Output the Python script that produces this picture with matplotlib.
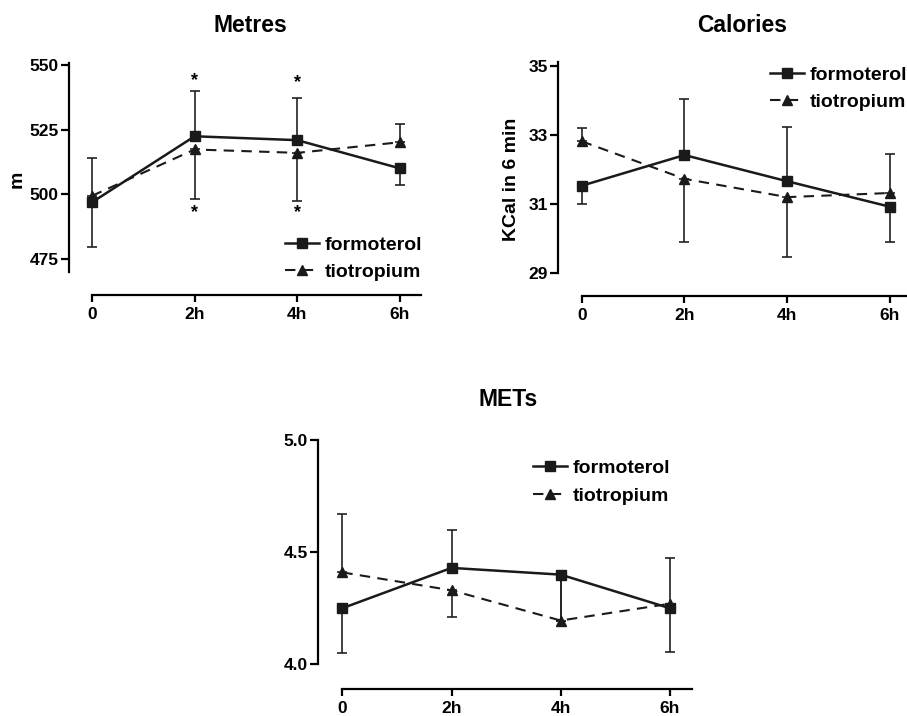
import matplotlib
matplotlib.use('Agg')
import matplotlib.pyplot as plt

plt.rcParams['font.family'] = ['Liberation Sans', 'DejaVu Sans']
plt.rcParams['font.weight'] = 'bold'

# data
times = ['0', '2h', '4h', '6h']
xpos = [0, 2, 4, 6]

metres_form = [496.9, 522.4, 520.9, 510.0]
metres_form_lo = [17.2, 0, 0, 6.6]
metres_form_hi = [0, 17.4, 16.3, 0]
metres_tio = [499.4, 517.3, 516.0, 520.1]
metres_tio_lo = [0, 19.1, 18.7, 0]
metres_tio_hi = [14.7, 0, 0, 7.2]

cal_form = [31.52, 32.41, 31.65, 30.91]
cal_form_lo = [0.53, 0, 0, 1.03]
cal_form_hi = [0, 1.63, 1.58, 0]
cal_tio = [32.81, 31.72, 31.19, 31.31]
cal_tio_lo = [0, 1.82, 1.75, 0]
cal_tio_hi = [0.38, 0, 0, 1.14]

mets_form = [4.25, 4.43, 4.40, 4.25]
mets_form_lo = [0.20, 0, 0.205, 0.194]
mets_form_hi = [0, 0.17, 0, 0]
mets_tio = [4.41, 4.33, 4.195, 4.27]
mets_tio_lo = [0, 0.12, 0, 0]
mets_tio_hi = [0.26, 0, 0.205, 0.204]

W, H = 907, 716
fig = plt.figure(figsize=(W / 100, H / 100), dpi=100)


def px_axes(left, right, top, bottom):
    return fig.add_axes([left / W, (H - bottom) / H, (right - left) / W, (bottom - top) / H])


def style(ax, xlim, ylim, ybounds, yticks, yticklabels):
    ax.set_xlim(*xlim)
    ax.set_ylim(*ylim)
    for s in ['top', 'right']:
        ax.spines[s].set_visible(False)
    for s in ['left', 'bottom']:
        ax.spines[s].set_linewidth(1.6)
    ax.spines['left'].set_bounds(*ybounds)
    ax.spines['bottom'].set_bounds(0, xlim[1])
    ax.set_xticks(xpos)
    ax.set_xticklabels(times, fontsize=12.5, fontweight='bold')
    ax.set_yticks(yticks)
    ax.set_yticklabels(yticklabels, fontsize=12.5, fontweight='bold')
    ax.tick_params(axis='y', length=6, width=1.6, pad=1.5)
    ax.tick_params(axis='x', length=5, width=1.6, pad=3.5)
    ax.patch.set_visible(False)


def draw(ax, form, flo, fhi, tio, tlo, thi):
    ax.errorbar(xpos, form, yerr=[flo, fhi], fmt='none', ecolor='#222222',
                elinewidth=1.2, capsize=3.5, capthick=1.2, zorder=2)
    ax.errorbar(xpos, tio, yerr=[tlo, thi], fmt='none', ecolor='#222222',
                elinewidth=1.2, capsize=3.5, capthick=1.2, zorder=2)
    ax.plot(xpos, form, color='#1a1a1a', lw=1.8, marker='s', ms=7.5,
            label='formoterol', zorder=3)
    ax.plot(xpos, tio, color='#1a1a1a', lw=1.5, ls=(0, (5, 3.5)), marker='^', ms=7.5,
            label='tiotropium', zorder=3)


def legend(ax, x, y, spacing=0.5):
    ax.legend(loc='upper left', bbox_to_anchor=(x / W, (H - y) / H),
              bbox_transform=fig.transFigure, frameon=False, numpoints=1,
              prop={'size': 14, 'weight': 'bold'}, handlelength=1.75,
              handletextpad=0.3, labelspacing=spacing, borderpad=0, borderaxespad=0)


# Metres
ax1 = px_axes(69, 421, 63, 295)
draw(ax1, metres_form, metres_form_lo, metres_form_hi, metres_tio, metres_tio_lo, metres_tio_hi)
style(ax1, (-0.448, 6.41), (461.1, 550.7), (470, 550.7), [475, 500, 525, 550],
      ['475', '500', '525', '550'])
ax1.set_ylabel('m', fontsize=14, fontweight='bold', labelpad=3)
for xi, yi in [(2, 544), (4, 543.2), (2, 493), (4, 493)]:
    ax1.text(xi, yi, '*', ha='center', va='center', fontsize=13, fontweight='bold')
legend(ax1, 285, 236)
fig.text(250 / W, (H - 25) / H, 'Metres', ha='center', va='center', fontsize=16.5, fontweight='bold')

# Calories
ax2 = px_axes(558, 907, 62, 295.7)
draw(ax2, cal_form, cal_form_lo, cal_form_hi, cal_tio, cal_tio_lo, cal_tio_hi)
style(ax2, (-0.461, 6.33), (28.33, 35.11), (29, 35.11), [29, 31, 33, 35],
      ['29', '31', '33', '35'])
ax2.set_ylabel('KCal in 6 min', fontsize=14, fontweight='bold', labelpad=6)
legend(ax2, 770, 66)
fig.text(741.7 / W, (H - 25) / H, 'Calories', ha='center', va='center', fontsize=16.5, fontweight='bold')

# METs
ax3 = px_axes(318.3, 691.7, 438, 689.3)
draw(ax3, mets_form, mets_form_lo, mets_form_hi, mets_tio, mets_tio_lo, mets_tio_hi)
style(ax3, (-0.44, 6.4), (3.888, 5.01), (4.0, 5.0), [4.0, 4.5, 5.0],
      ['4.0', '4.5', '5.0'])
legend(ax3, 532.7, 459, spacing=0.55)
fig.text(507.7 / W, (H - 400) / H, 'METs', ha='center', va='center', fontsize=16.5, fontweight='bold')

fig.savefig('out.png', dpi=100)
